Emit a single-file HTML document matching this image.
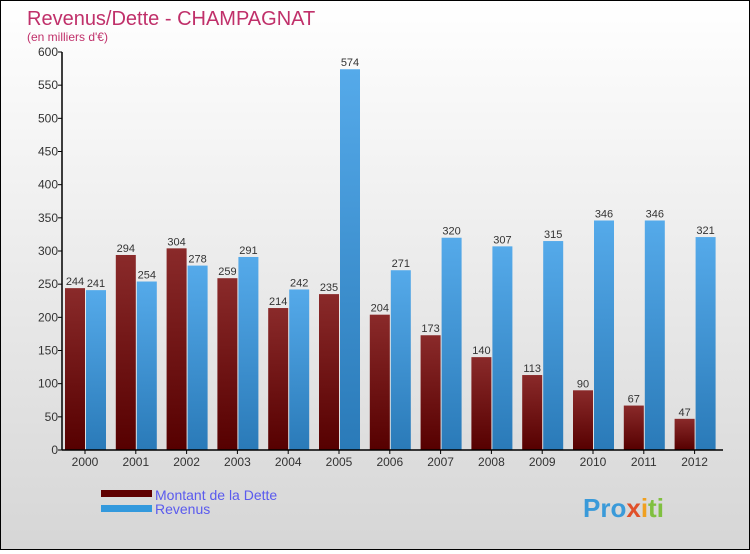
<!DOCTYPE html>
<html><head><meta charset="utf-8"><style>
body{margin:0;width:750px;height:550px;overflow:hidden;font-family:"Liberation Sans",sans-serif}
#wrap{position:relative;width:748px;height:548px;border:1px solid #000;background:linear-gradient(#ffffff,#d6d6d6)}
text{font-family:"Liberation Sans",sans-serif}
</style></head><body>
<div id="wrap">
<svg id="chart" width="748" height="548">
<defs>
<linearGradient id="gd" x1="0" y1="0" x2="0" y2="1"><stop offset="0" stop-color="#8a2a2a"/><stop offset="1" stop-color="#560000"/></linearGradient>
<linearGradient id="gr" x1="0" y1="0" x2="0" y2="1"><stop offset="0" stop-color="#55aaea"/><stop offset="1" stop-color="#2a7ab8"/></linearGradient>
</defs>
<text x="26" y="24" font-size="20" fill="#c0306a">Revenus/Dette - CHAMPAGNAT</text>
<text x="26" y="40" font-size="12" fill="#c0306a">(en milliers d'€)</text>
<g id="bars"></g>
<g id="axes"></g>
<g>
<rect x="100" y="489" width="51" height="7" fill="#600000"/>
<rect x="100" y="504" width="51" height="7" fill="#3399dd"/>
<text x="154" y="499" font-size="14" fill="#5a5aee">Montant de la Dette</text>
<text x="154" y="513" font-size="14" fill="#5a5aee">Revenus</text>
</g>
<text x="582" y="516" font-size="26" font-weight="bold" fill="#3a9ad9">Pro<tspan fill="#e0502a">x</tspan><tspan fill="#f0a020">i</tspan><tspan fill="#80c040">ti</tspan></text>
</svg>
</div>
<script>
const years=["2000","2001","2002","2003","2004","2005","2006","2007","2008","2009","2010","2011","2012"];
const dette=[244,294,304,259,214,235,204,173,140,113,90,67,47];
const revenus=[241,254,278,291,242,574,271,320,307,315,346,346,321];
const yTicks=[0,50,100,150,200,250,300,350,400,450,500,550,600];
const NS="http://www.w3.org/2000/svg";
const y0=449,yScale=398/600,x0=84,step=50.8,bw=20;
const y=v=>y0-v*yScale, xc=i=>x0+i*step;
function mk(t,a,p){const e=document.createElementNS(NS,t);for(const k in a)e.setAttribute(k,a[k]);p.appendChild(e);return e;}
const bars=document.getElementById('bars'),axes=document.getElementById('axes');
years.forEach((yr,i)=>{
 let r=mk('rect',{x:xc(i)-bw,y:y(dette[i]),width:bw,height:dette[i]*yScale,fill:'url(#gd)'},bars);
 
 
 let r2=mk('rect',{x:xc(i)+1,y:y(revenus[i]),width:bw,height:revenus[i]*yScale,fill:'url(#gr)'},bars);
 
 
 let t=mk('text',{x:xc(i)-bw/2,y:y(dette[i])-3,'font-size':11,'text-anchor':'middle',fill:'#333'},bars);t.textContent=dette[i];
 
 
 let t2=mk('text',{x:xc(i)+1+bw/2,y:y(revenus[i])-3,'font-size':11,'text-anchor':'middle',fill:'#333'},bars);t2.textContent=revenus[i];
 
 
 mk('line',{x1:xc(i),x2:xc(i),y1:y0,y2:y0+4,stroke:'#000'},axes);
 let xl=mk('text',{x:xc(i),y:y0+16,'font-size':12,'text-anchor':'middle',fill:'#333'},axes);xl.textContent=yr;
 
 
});
yTicks.forEach(v=>{
 mk('line',{x1:57,x2:61,y1:y(v),y2:y(v),stroke:'#000'},axes);
 let l=mk('text',{x:57,y:y(v)+4,'font-size':12,'text-anchor':'end',fill:'#333'},axes);l.textContent=v;
 
 
});
let ya=mk('line',{x1:61,x2:61,y1:y(600),y2:y0,stroke:'#000','stroke-width':1.5},axes);


let xa=mk('line',{x1:61,x2:722,y1:y0,y2:y0,stroke:'#000','stroke-width':1.5},axes);


</script>
</body></html>
